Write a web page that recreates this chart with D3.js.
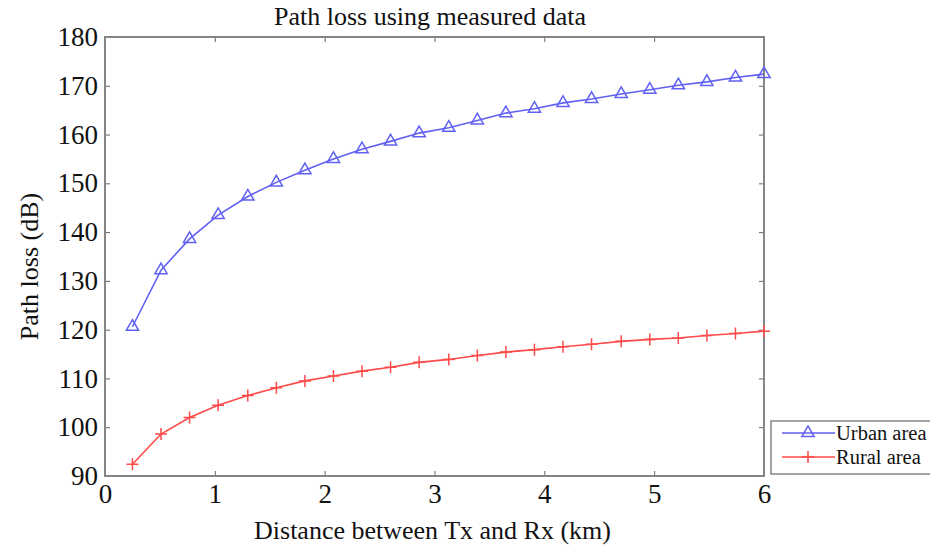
<!DOCTYPE html>
<html>
<head>
<meta charset="utf-8">
<script src="https://cdn.jsdelivr.net/npm/d3@7"></script>
<style>
  html, body { margin: 0; padding: 0; background: #fff; }
  text { font-family: 'Liberation Serif', 'DejaVu Serif', 'Times New Roman', Times, serif !important; }
</style>
</head>
<body>
<svg id="chart" width="930" height="548"></svg>
<script>
// ---- data ----
const distance = [0.25, 0.51, 0.77, 1.03, 1.30, 1.56, 1.82, 2.08, 2.34, 2.60, 2.86, 3.13,
                  3.39, 3.65, 3.91, 4.17, 4.43, 4.70, 4.96, 5.22, 5.48, 5.74, 6.00];
const urban = [120.6, 132.2, 138.6, 143.5, 147.3, 150.2, 152.7, 155.0, 157.0, 158.6, 160.3, 161.4,
               162.9, 164.4, 165.3, 166.5, 167.3, 168.3, 169.2, 170.1, 170.8, 171.7, 172.4];
const rural = [92.4, 98.6, 102.0, 104.5, 106.5, 108.1, 109.5, 110.5, 111.5, 112.3, 113.3, 113.9,
               114.7, 115.4, 115.9, 116.5, 117.0, 117.6, 118.0, 118.3, 118.8, 119.2, 119.7];
const xTicks = [0, 1, 2, 3, 4, 5, 6];
const yTicks = [90, 100, 110, 120, 130, 140, 150, 160, 170, 180];
const seriesNames = ["Urban area", "Rural area"];
const titleText = "Path loss using measured data";
const xLabel = "Distance between Tx and Rx (km)";
const yLabel = "Path loss (dB)";

// ---- layout ----
const L = 105, R = 764, T = 37, B = 476;
const svg = d3.select("#chart");
const x = d3.scaleLinear().domain([0, 6]).range([L, R]);
const y = d3.scaleLinear().domain([90, 180]).range([B, T]);

const frameColor = "#858585";
const blue = "#6060f2";
const red = "#ff4a4a";
const FONT = "'Liberation Serif', 'DejaVu Serif', 'Times New Roman', Times, serif";

// axes (ticks inward)
const tickLen = 5;
svg.append("g").attr("transform", `translate(0,${B})`)
  .call(d3.axisBottom(x).tickValues(xTicks).tickSize(-tickLen).tickPadding(8).tickFormat(d3.format("d")))
  .call(g => g.select(".domain").remove());
svg.append("g").attr("transform", `translate(0,${T})`)
  .call(d3.axisTop(x).tickValues(xTicks).tickSize(-tickLen).tickFormat(""))
  .call(g => g.select(".domain").remove());
svg.append("g").attr("transform", `translate(${L},0)`)
  .call(d3.axisLeft(y).tickValues(yTicks).tickSize(-tickLen).tickPadding(7).tickFormat(d3.format("d")))
  .call(g => g.select(".domain").remove());
svg.append("g").attr("transform", `translate(${R},0)`)
  .call(d3.axisRight(y).tickValues(yTicks).tickSize(-tickLen).tickFormat(""))
  .call(g => g.select(".domain").remove());

svg.selectAll("g").attr("font-family", FONT);
svg.selectAll(".tick line").attr("stroke", "#666").attr("stroke-width", 1);
svg.selectAll(".tick text").attr("fill", "#111").attr("font-size", 27);

// frame
svg.append("rect").attr("x", L).attr("y", T).attr("width", R - L).attr("height", B - T)
  .attr("fill", "none").attr("stroke", frameColor).attr("stroke-width", 2);

// lines
const line = d3.line().x((d, i) => x(distance[i])).y(d => y(d));
const tri = d3.symbol().type(d3.symbolTriangle).size(65);

function drawSeries(vals, color, type) {
  svg.append("path").datum(vals).attr("d", line)
    .attr("fill", "none").attr("stroke", color).attr("stroke-width", 1.6);
  const g = svg.append("g");
  vals.forEach((v, i) => {
    const cx = x(distance[i]), cy = y(v);
    if (type === "tri") {
      g.append("path").attr("d", tri()).attr("transform", `translate(${cx},${cy})`)
        .attr("fill", "none").attr("stroke", color).attr("stroke-width", 1.5);
    } else {
      g.append("path").attr("d", `M${cx - 6},${cy}H${cx + 6}M${cx},${cy - 6}V${cy + 6}`)
        .attr("stroke", color).attr("stroke-width", 1.5);
    }
  });
}
drawSeries(urban, blue, "tri");
drawSeries(rural, red, "plus");

// title and labels
svg.append("text").attr("x", 430).attr("y", 25).attr("text-anchor", "middle")
  .attr("font-family", FONT).attr("font-size", 26).attr("fill", "#111").text(titleText);
svg.append("text").attr("x", (L + R) / 2 - 2).attr("y", 539).attr("text-anchor", "middle")
  .attr("font-family", FONT).attr("font-size", 26).attr("fill", "#111").text(xLabel);
svg.append("text").attr("transform", `translate(38,${(T + B) / 2 + 10}) rotate(-90)`)
  .attr("text-anchor", "middle").attr("font-family", FONT).attr("font-size", 26)
  .attr("fill", "#111").text(yLabel);

// legend
const lg = svg.append("g");
lg.append("rect").attr("x", 771).attr("y", 421).attr("width", 175).attr("height", 53)
  .attr("fill", "#fff").attr("stroke", frameColor).attr("stroke-width", 1.5);
const rows = [{name: seriesNames[0], color: blue, type: "tri", cy: 433},
              {name: seriesNames[1], color: red, type: "plus", cy: 457}];
rows.forEach(r => {
  lg.append("line").attr("x1", 782).attr("x2", 835).attr("y1", r.cy).attr("y2", r.cy)
    .attr("stroke", r.color).attr("stroke-width", 1.6);
  if (r.type === "tri") {
    lg.append("path").attr("d", tri()).attr("transform", `translate(808,${r.cy})`)
      .attr("fill", "none").attr("stroke", r.color).attr("stroke-width", 1.5);
  } else {
    lg.append("path").attr("d", `M802,${r.cy}H814M808,${r.cy - 6}V${r.cy + 6}`)
      .attr("stroke", r.color).attr("stroke-width", 1.5);
  }
  lg.append("text").attr("x", 836).attr("y", r.cy + 7).attr("font-family", FONT)
    .attr("font-size", 20.5).attr("fill", "#111").text(r.name);
});
</script>
</body>
</html>
